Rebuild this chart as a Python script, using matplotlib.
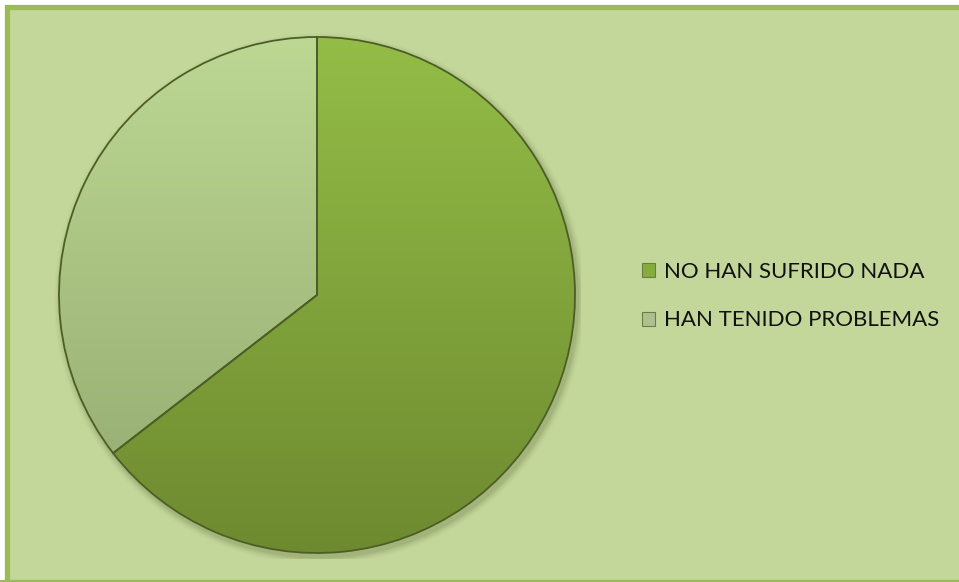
"""
Pie chart: NO HAN SUFRIDO NADA vs HAN TENIDO PROBLEMAS.
Renders out.png (959x582).
"""

import numpy as np
import matplotlib.pyplot as plt
from matplotlib.colors import LinearSegmentedColormap
from matplotlib.patches import Rectangle, Patch

LABELS = ["NO HAN SUFRIDO NADA", "HAN TENIDO PROBLEMAS"]
VALUES = [64.5, 35.5]
TOP_COLORS = ["#93bd47", "#bcd893"]
BOTTOM_COLORS = ["#6e8a30", "#93a86f"]
LEGEND_COLORS = ["#86ac3c", "#aebf92"]

BG = "#c4d79b"
FRAME = "#9bbb59"

W, H = 959, 582
fig = plt.figure(figsize=(W / 100, H / 100), dpi=100, facecolor="white")

# frame: thick green border, panel fill (behind the axes)
fig.patches.append(Rectangle((7 / W, 0), 1.2, 1 - 7 / H, transform=fig.transFigure,
                             facecolor=BG, edgecolor=FRAME, linewidth=3.8,
                             zorder=-10))
fig.patches.append(Rectangle((0, 1.5 / H), 1, 0, transform=fig.transFigure,
                             facecolor="none", edgecolor=FRAME, linewidth=1.5,
                             zorder=-9))

cx, cy, r = 317, H - 295, 258
pad = 264
ax = fig.add_axes([(cx - pad) / W, (cy - pad) / H, 2 * pad / W, 2 * pad / H])
ax.set_facecolor("none")
ax.axis("off")

wedges, _ = ax.pie(VALUES, startangle=90, counterclock=False, radius=1.0,
                   colors=LEGEND_COLORS,
                   wedgeprops=dict(edgecolor="#4c5e26", linewidth=1.3))
lim = pad / r

# soft shadow round the pie
for k, a in enumerate(np.linspace(0.10, 0.02, 5)):
    circ = plt.Circle((0.01, -0.015), 1.0 + 0.006 * (k + 1), color="#4a5a26",
                      alpha=a, zorder=0, lw=0)
    ax.add_patch(circ)

# vertical gradient fill clipped to each wedge
grad = np.linspace(1, 0, 256).reshape(-1, 1)
for w, top, bot in zip(wedges, TOP_COLORS, BOTTOM_COLORS):
    cmap = LinearSegmentedColormap.from_list("g", [bot, top])
    im = ax.imshow(grad, extent=(-1, 1, -1, 1), cmap=cmap, aspect="auto",
                   origin="upper", zorder=w.get_zorder() + 0.1)
    im.set_clip_path(w)
    w.set_facecolor("none")
    w.set_zorder(w.get_zorder() + 0.2)
ax.set_xlim(-lim, lim)
ax.set_ylim(-lim, lim)
ax.set_aspect("equal")

handles = [Patch(facecolor=c, edgecolor="#6b7f45", linewidth=0.8) for c in LEGEND_COLORS]
leg = fig.legend(handles, LABELS, loc="center left",
                 bbox_to_anchor=(622 / W, 1 - 296 / H), frameon=False,
                 prop=dict(family="Lato", size=16), handlelength=0.6,
                 handleheight=0.6, handletextpad=0.4, labelspacing=1.3,
                 labelcolor="#111111")

fig.savefig("out.png", dpi=100, facecolor="white")
